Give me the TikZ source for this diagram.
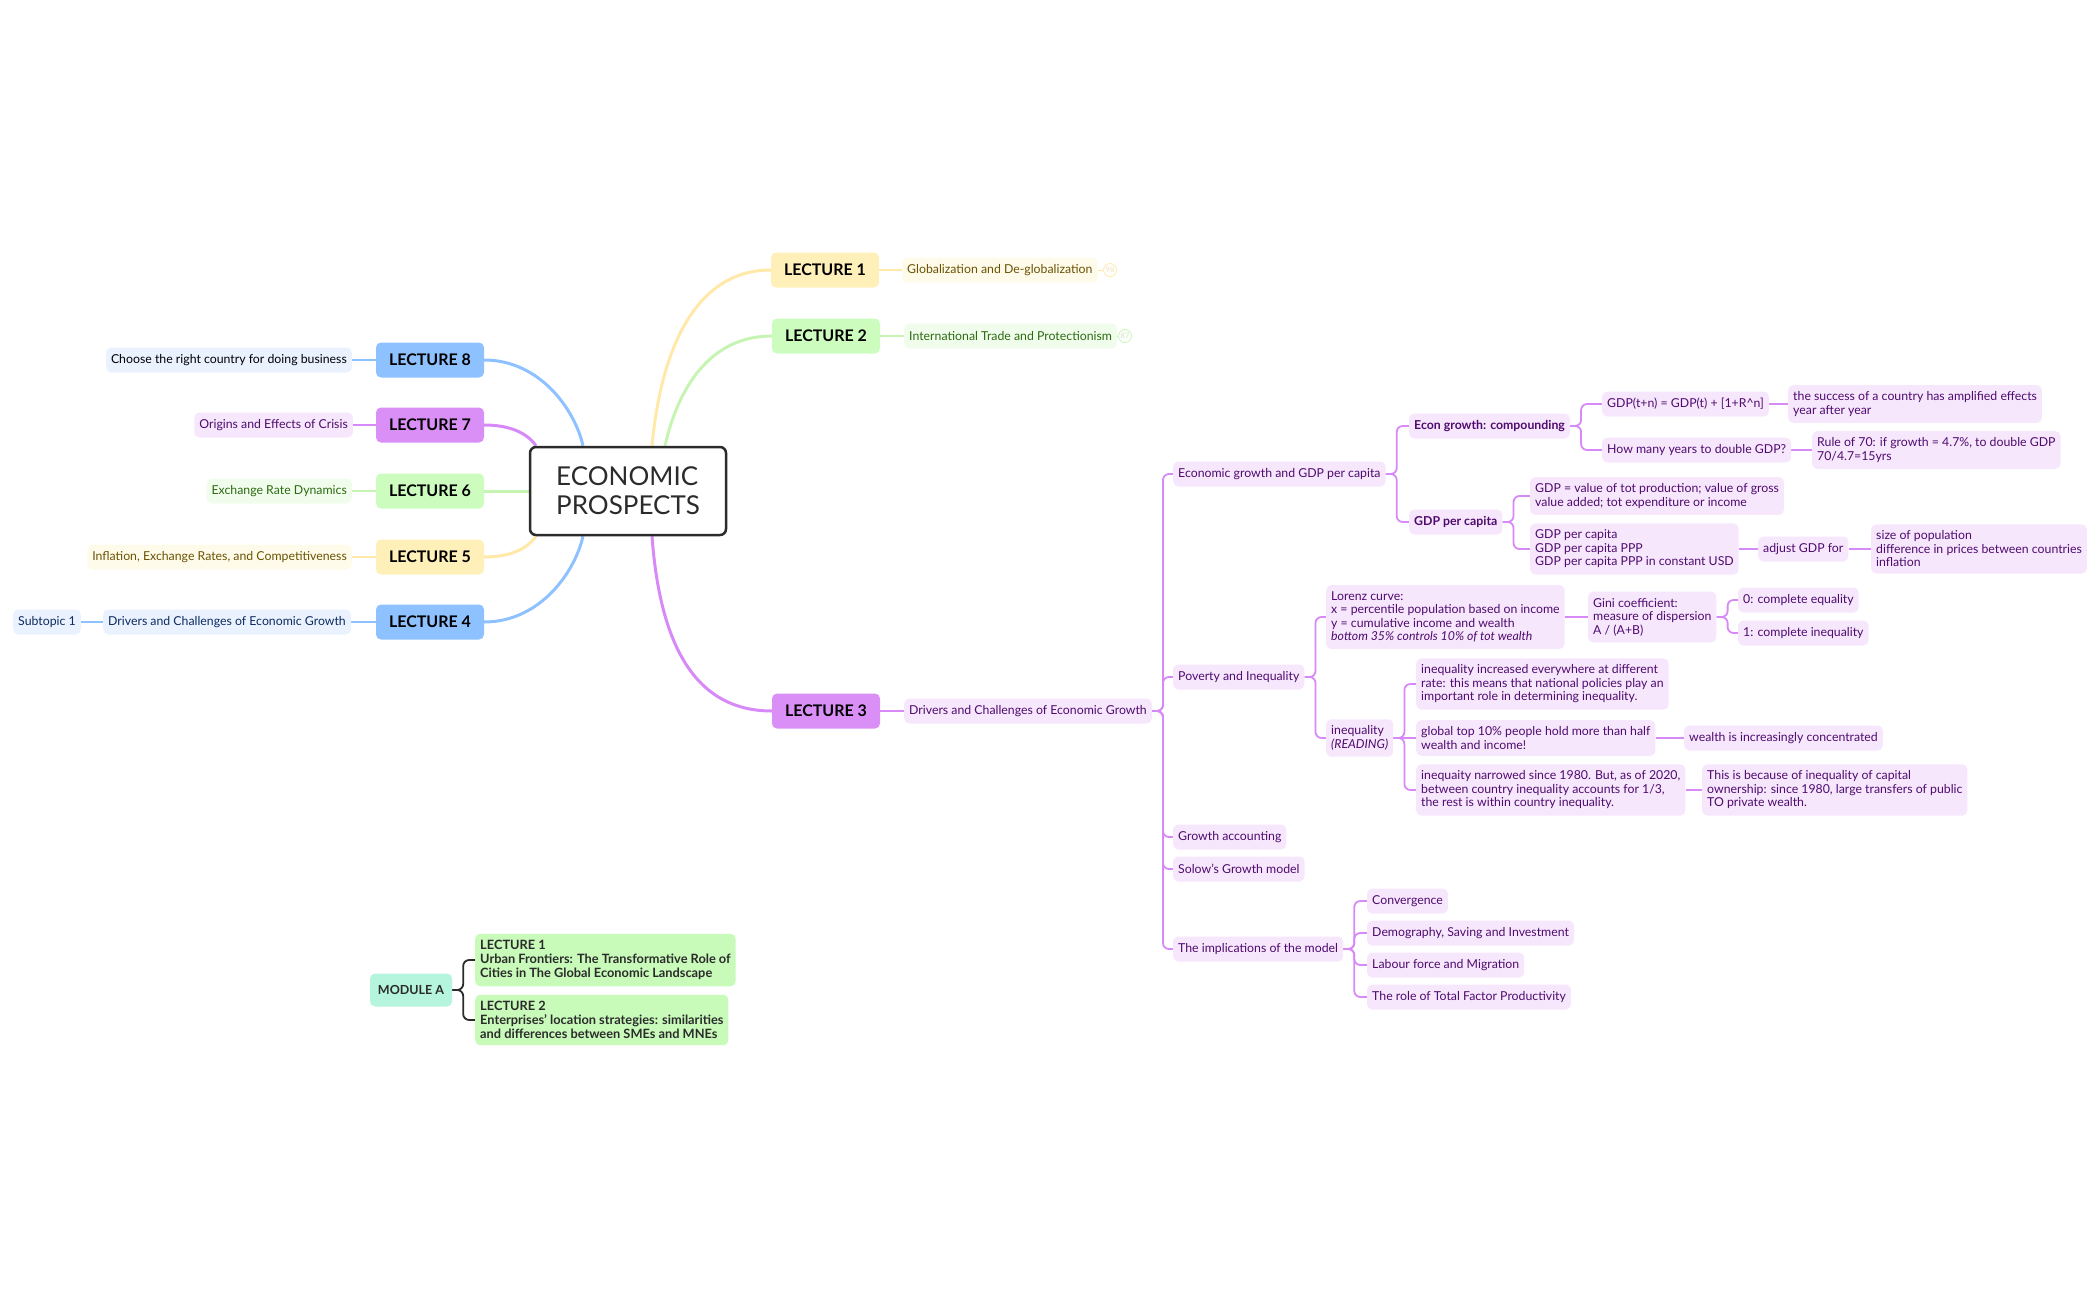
\documentclass[tikz,border=0pt]{standalone}
\usepackage{fontspec}
\setmainfont{Lato}
\usetikzlibrary{backgrounds}
\definecolor{ink}{HTML}{2B2B2B}
\definecolor{blueLec}{HTML}{8EC1FF}
\definecolor{blueSub}{HTML}{EAF2FF}
\definecolor{blueTxt}{HTML}{0D2B5E}
\definecolor{purpLec}{HTML}{DA8FF7}
\definecolor{purpSub}{HTML}{F6E7FD}
\definecolor{purpTxt}{HTML}{4F0B6E}
\definecolor{purpLine}{HTML}{D78AF7}
\definecolor{greenLec}{HTML}{CDFDBE}
\definecolor{greenSub}{HTML}{F1FDEC}
\definecolor{greenTxt}{HTML}{2C6A10}
\definecolor{greenLine}{HTML}{C6F5B3}
\definecolor{yelLec}{HTML}{FFEFB8}
\definecolor{yelSub}{HTML}{FFFBEB}
\definecolor{yelTxt}{HTML}{6A5200}
\definecolor{yelLine}{HTML}{FFE8A8}
\definecolor{mint}{HTML}{B5F4DD}
\definecolor{modGreen}{HTML}{C8FABA}
\tikzset{
  box/.style={rounded corners=5pt, inner xsep=5pt, inner ysep=6.5pt, align=left,
    minimum height=25pt, font=\fontsize{12.3}{13.5}\selectfont},
  lecture/.style={rounded corners=5pt, minimum width=108pt, minimum height=35pt,
    inner sep=0pt, font=\bfseries\fontsize{16}{18}\selectfont},
  psub/.style={box, anchor=west, fill=purpSub, text=purpTxt},
  count/.style={circle, line width=0.8pt, inner sep=0pt, minimum size=13pt,
    font=\fontsize{7.5}{7.5}\selectfont},
  stem/.style={line width=3pt},
  twig/.style={line width=2pt},
  branch/.style={draw=purpLine, line width=1.8pt, rounded corners=6pt},
}
\def\Branch#1#2{\draw[branch] (#1.east) -- ++(11,0) |- (#2.west);}
\def\Link#1#2{\draw[branch] (#1.east) -- (#2.west);}

\begin{document}
\begin{tikzpicture}[x=1pt, y=-1pt]
\useasboundingbox (0,0) rectangle (2099,1300);

\node[draw=ink, line width=2.5pt, rounded corners=6pt, minimum width=196pt,
  minimum height=88pt, align=left, text=ink, font=\fontsize{26}{29}\selectfont]
  (eco) at (628,491) {ECONOMIC\\PROSPECTS};

\node[lecture, fill=blueLec] (l8) at (430,360) {LECTURE 8};
\node[lecture, fill=purpLec] (l7) at (430,425) {LECTURE 7};
\node[lecture, fill=greenLec] (l6) at (430,491) {LECTURE 6};
\node[lecture, fill=yelLec] (l5) at (430,557) {LECTURE 5};
\node[lecture, fill=blueLec] (l4) at (430,622) {LECTURE 4};
\node[lecture, fill=yelLec] (l1) at (825,270) {LECTURE 1};
\node[lecture, fill=greenLec] (l2) at (826,336) {LECTURE 2};
\node[lecture, fill=purpLec] (l3) at (826,711) {LECTURE 3};

\node[box, anchor=east, fill=blueSub, text=black] (s8) at (352,360) {Choose the right country for doing business};
\node[box, anchor=east, fill=purpSub, text=purpTxt] (s7) at (353,425) {Origins and Effects of Crisis};
\node[box, anchor=east, fill=greenSub, text=greenTxt] (s6) at (352,491) {Exchange Rate Dynamics};
\node[box, anchor=east, fill=yelSub, text=yelTxt] (s5) at (352,557) {Inflation, Exchange Rates, and Competitiveness};
\node[box, anchor=east, fill=blueSub, text=blueTxt] (s4) at (351,622) {Drivers and Challenges of Economic Growth};
\node[box, anchor=east, fill=blueSub, text=blueTxt] (s4a) at (81,622) {Subtopic 1};

\node[box, anchor=west, fill=yelSub, text=yelTxt] (s1) at (902,270) {Globalization and De-globalization};
\node[count, draw=yelLine, text=yelLine!80!yelTxt!60] (c1) at (1110,270) {98};
\node[box, anchor=west, fill=greenSub, text=greenTxt] (s2) at (904,336) {International Trade and Protectionism};
\node[count, draw=greenLine, text=greenLine!80!greenTxt!60] (c2) at (1125,336) {87};
\node[psub] (d3) at (904,711) {Drivers and Challenges of Economic Growth};

\node[psub] (gr) at (1173,474) {Economic growth and GDP per capita};
\node[psub] (pov) at (1173,677) {Poverty and Inequality};
\node[psub] (acc) at (1173,837) {Growth accounting};
\node[psub] (sol) at (1173,869) {Solow's Growth model};
\node[psub] (imp) at (1173,949) {The implications of the model};

\node[psub, font=\bfseries\fontsize{12.3}{13.5}\selectfont] (comp) at (1409,426) {Econ growth: compounding};
\node[psub, font=\bfseries\fontsize{12.3}{13.5}\selectfont] (gdpc) at (1409,522) {GDP per capita};
\node[psub] (form) at (1602,404) {GDP(t+n) = GDP(t) + [1+R\textasciicircum n]};
\node[psub] (succ) at (1788,404) {the success of a country has amplified effects\\year after year};
\node[psub] (dbl) at (1602,450) {How many years to double GDP?};
\node[psub] (rule) at (1812,450) {Rule of 70: if growth = 4.7\%, to double GDP\\70/4.7=15yrs};
\node[psub] (val) at (1530,496) {GDP = value of tot production; value of gross\\value added; tot expenditure or income};
\node[psub] (ppp) at (1530,549) {GDP per capita\\GDP per capita PPP\\GDP per capita PPP in constant USD};
\node[psub] (adj) at (1758,549) {adjust GDP for};
\node[psub] (size) at (1871,549) {size of population\\difference in prices between countries\\inflation};

\node[psub] (lor) at (1326,617) {Lorenz curve:\\x = percentile population based on income\\y = cumulative income and wealth\\\textit{bottom 35\% controls 10\% of tot wealth}};
\node[psub] (gini) at (1588,617) {Gini coefficient:\\measure of dispersion\\A / (A+B)};
\node[psub] (eq0) at (1738,600) {0: complete equality};
\node[psub] (eq1) at (1738,633) {1: complete inequality};
\node[psub] (ineq) at (1326,738) {inequality\\\textit{(READING)}};
\node[psub] (rate) at (1416,684) {inequality increased everywhere at different\\rate: this means that national policies play an\\important role in determining inequality.};
\node[psub] (top) at (1416,738) {global top 10\% people hold more than half\\wealth and income!};
\node[psub] (conc) at (1684,738) {wealth is increasingly concentrated};
\node[psub] (narr) at (1416,790) {inequaity narrowed since 1980. But, as of 2020,\\between country inequality accounts for 1/3,\\the rest is within country inequality.};
\node[psub] (cap) at (1702,790) {This is because of inequality of capital\\ownership: since 1980, large transfers of public\\TO private wealth.};

\node[psub] (conv) at (1367,901) {Convergence};
\node[psub] (demo) at (1367,933) {Demography, Saving and Investment};
\node[psub] (lab) at (1367,965) {Labour force and Migration};
\node[psub] (tfp) at (1367,997) {The role of Total Factor Productivity};

\node[box, fill=mint, text=ink, font=\bfseries\fontsize{12.5}{14}\selectfont,
  minimum width=82pt, minimum height=33pt] (mod) at (411,990) {MODULE A};
\node[box, anchor=west, fill=modGreen, text=ink, font=\bfseries\fontsize{12.8}{14}\selectfont]
  (ml1) at (475,960) {LECTURE 1\\Urban Frontiers: The Transformative Role of\\Cities in The Global Economic Landscape};
\node[box, anchor=west, fill=modGreen, text=ink, font=\bfseries\fontsize{12.8}{14}\selectfont]
  (ml2) at (475,1020) {LECTURE 2\\Enterprises' location strategies: similarities\\and differences between SMEs and MNEs};

\begin{scope}[on background layer]
\draw[stem, draw=blueLec] (l8.east) .. controls (540,360) and (575,410) .. ([xshift=-45]eco.north);
\draw[stem, draw=purpLine] (l7.east) .. controls (510,425) and (527,433) .. ([xshift=-92]eco.north);
\draw[stem, draw=greenLine] (l6.east) -- (eco.west);
\draw[stem, draw=yelLine] (l5.east) .. controls (510,557) and (527,549) .. ([xshift=-92]eco.south);
\draw[stem, draw=blueLec] (l4.east) .. controls (540,622) and (575,572) .. ([xshift=-45]eco.south);
\draw[stem, draw=yelLine] ([xshift=24]eco.north) .. controls (662,340) and (700,270) .. (l1.west);
\draw[stem, draw=greenLine] ([xshift=37]eco.north) .. controls (680,380) and (715,336) .. (l2.west);
\draw[stem, draw=purpLine] ([xshift=24]eco.south) .. controls (660,645) and (695,711) .. (l3.west);

\draw[twig, draw=blueLec] (l8.west) -- (s8.east);
\draw[twig, draw=purpLine] (l7.west) -- (s7.east);
\draw[twig, draw=greenLine] (l6.west) -- (s6.east);
\draw[twig, draw=yelLine] (l5.west) -- (s5.east);
\draw[twig, draw=blueLec] (l4.west) -- (s4.east);
\draw[twig, draw=blueLec] (s4.west) -- (s4a.east);
\draw[twig, draw=yelLine] (l1.east) -- (s1.west);
\draw[line width=0.8pt, draw=yelLine] (s1.east) -- (c1.west);
\draw[twig, draw=greenLine] (l2.east) -- (s2.west);
\draw[line width=0.8pt, draw=greenLine] (s2.east) -- (c2.west);
\draw[twig, draw=purpLine] (l3.east) -- (d3.west);

\foreach \c in {gr,pov,acc,sol,imp} {\Branch{d3}{\c}}
\Branch{gr}{comp} \Branch{gr}{gdpc}
\Branch{comp}{form} \Branch{comp}{dbl}
\Link{form}{succ} \Link{dbl}{rule}
\Branch{gdpc}{val} \Branch{gdpc}{ppp}
\Link{ppp}{adj} \Link{adj}{size}
\Branch{pov}{lor} \Branch{pov}{ineq}
\Link{lor}{gini} \Branch{gini}{eq0} \Branch{gini}{eq1}
\Branch{ineq}{rate} \Link{ineq}{top} \Branch{ineq}{narr}
\Link{top}{conc} \Link{narr}{cap}
\foreach \c in {conv,demo,lab,tfp} {\Branch{imp}{\c}}
\draw[branch, draw=ink] (mod.east) -- ++(11,0) |- (ml1.west);
\draw[branch, draw=ink] (mod.east) -- ++(11,0) |- (ml2.west);
\end{scope}
\end{tikzpicture}
\end{document}
